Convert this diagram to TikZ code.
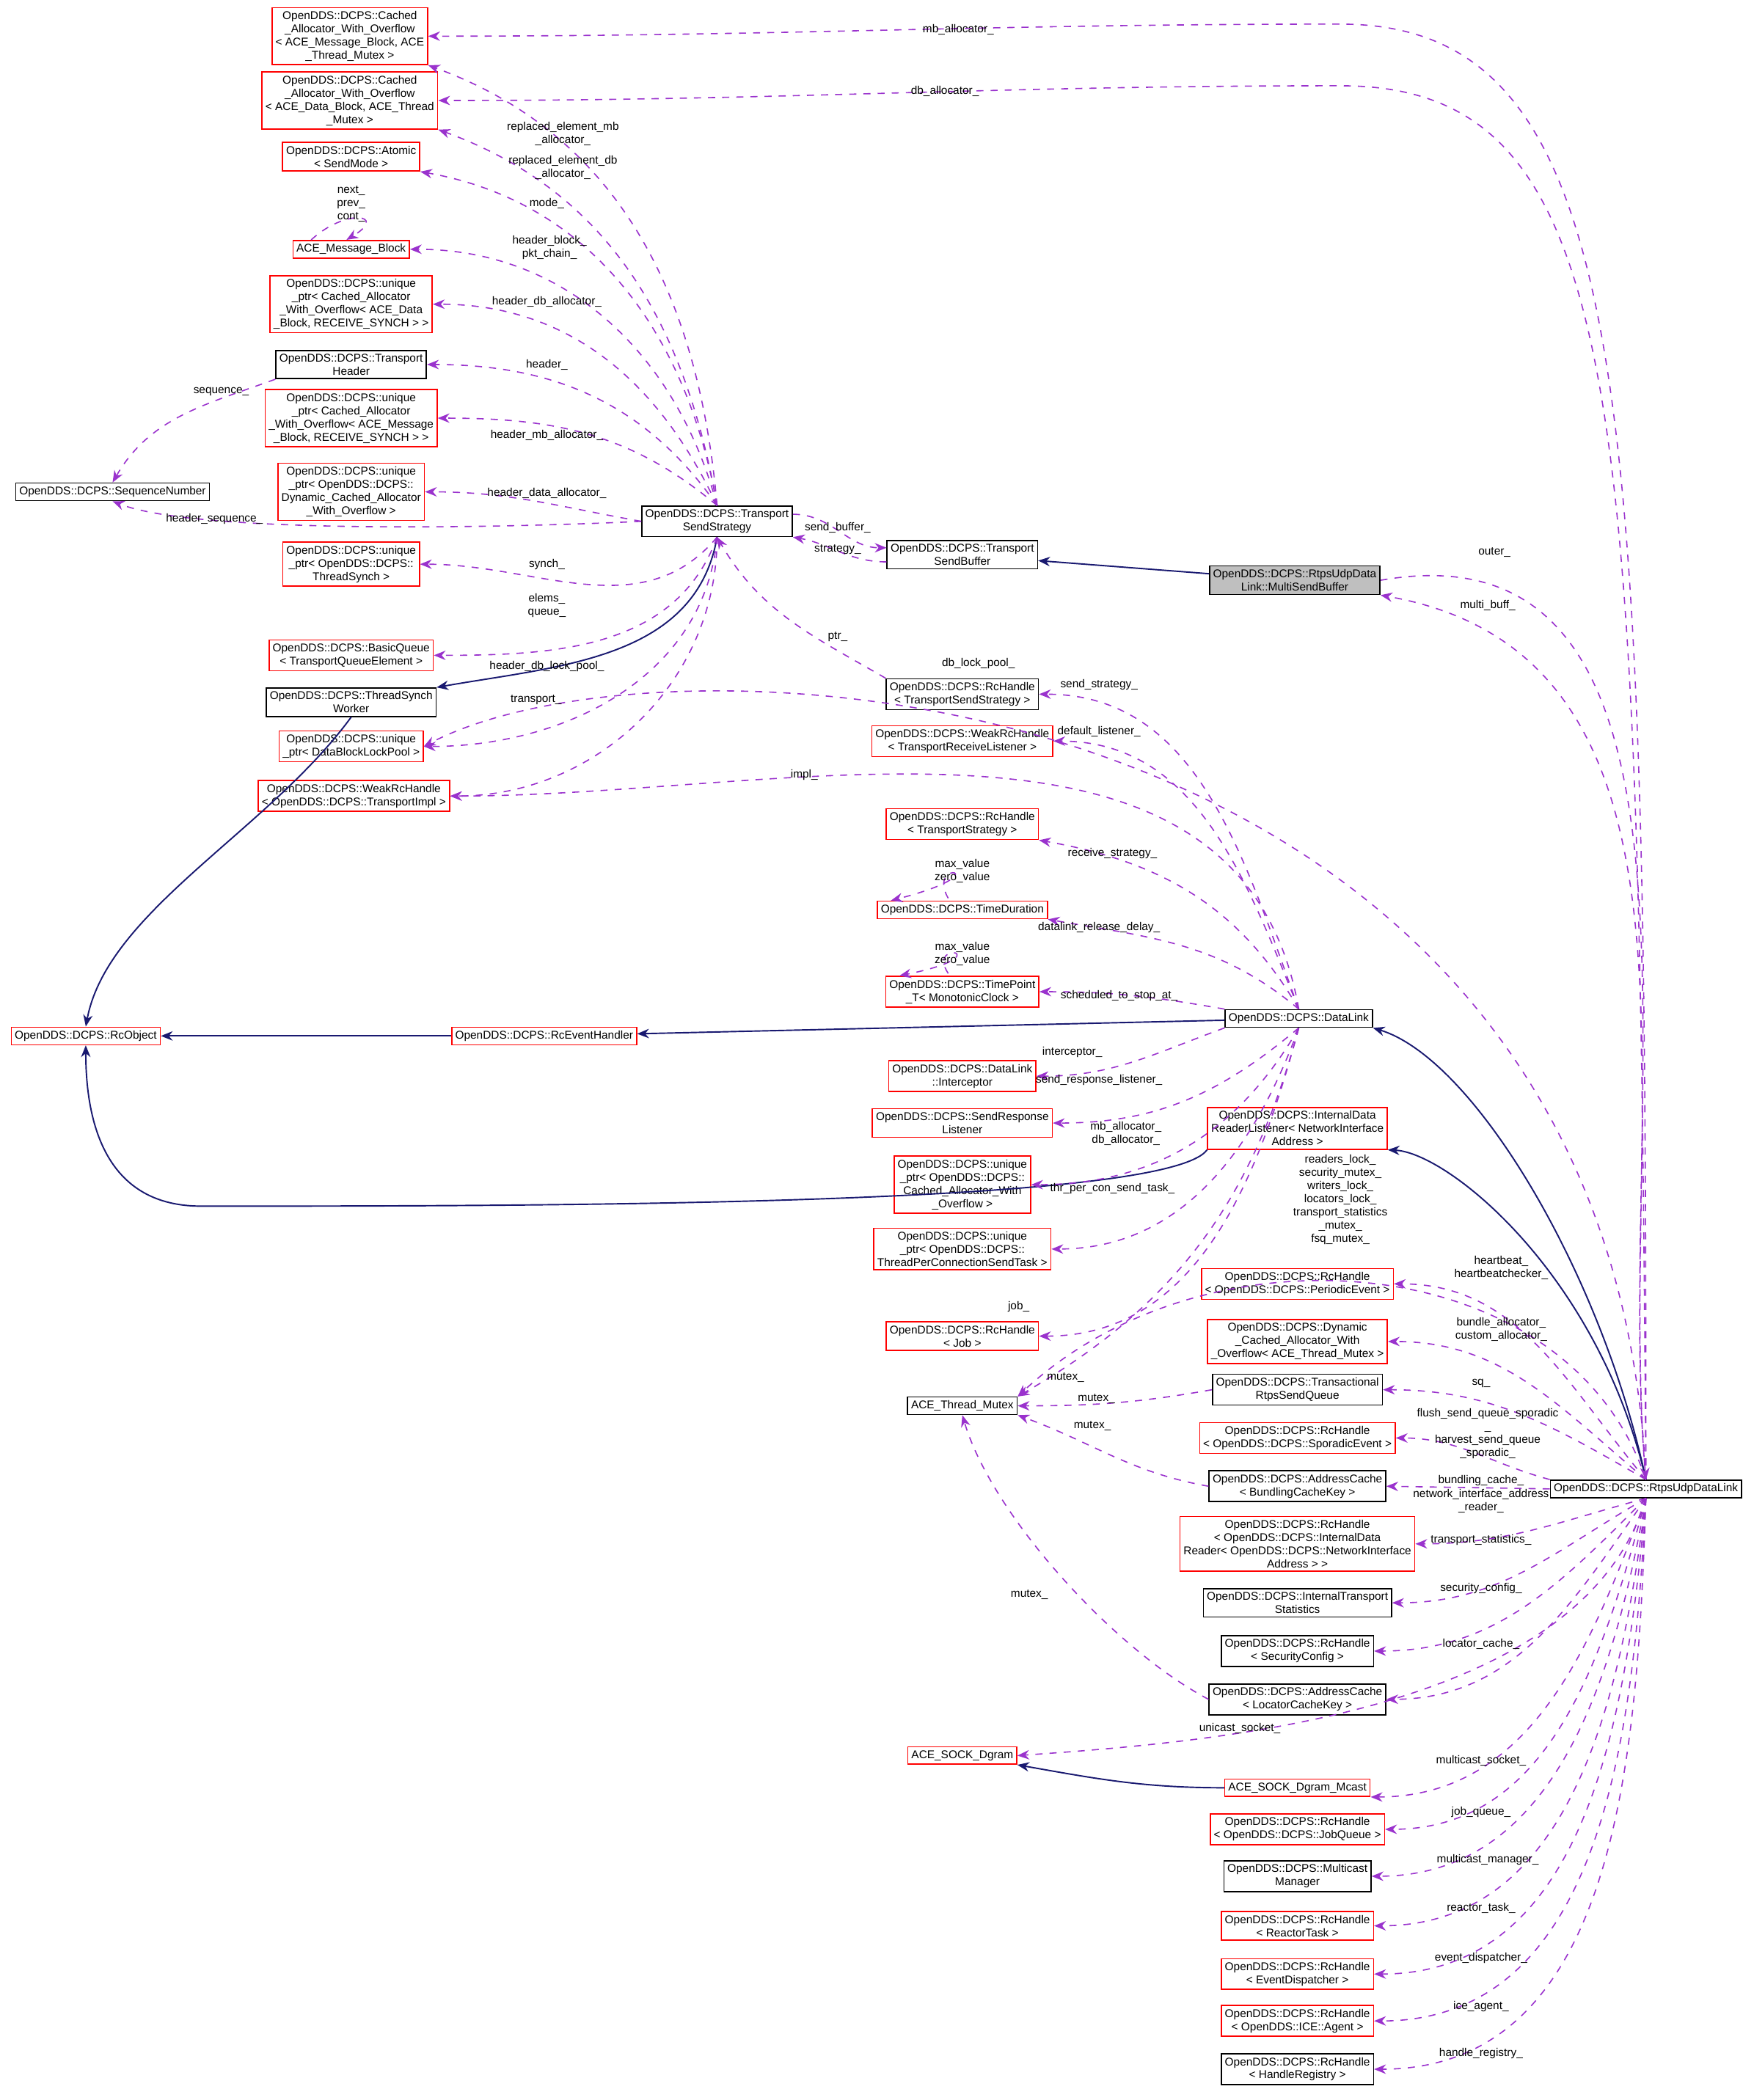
\documentclass[tikz,border=0pt]{standalone}
\usepackage{fontspec}
\setmainfont{Liberation Sans}
\usetikzlibrary{arrows.meta,positioning}
\definecolor{mbr}{HTML}{9A32CD}
\definecolor{inh}{HTML}{191970}
\begin{document}
\begin{tikzpicture}
[x=0.02cm,y=-0.02cm,
font=\fontsize{4.8}{5.6}\selectfont,
cls/.style={draw=black,align=center,inner sep=1.5pt,line width=0.5pt},
rcls/.style={cls,draw=red},
lbl/.style={align=center,inner sep=0pt},
member/.style={mbr,dashed,line width=0.5pt,-{Stealth[length=5pt,width=4pt]}},
inherit/.style={inh,line width=0.6pt,-{Stealth[length=5pt,width=4pt]}}]
\useasboundingbox (0,0) rectangle (1300,1567);
%%
% left column
%%
\node[rcls] (cawomb) at (261,27) {OpenDDS::DCPS::Cached\\\_Allocator\_With\_Overflow\\< ACE\_Message\_Block, ACE\\\_Thread\_Mutex >};
\node[rcls] (cawodb) at (261,75) {OpenDDS::DCPS::Cached\\\_Allocator\_With\_Overflow\\< ACE\_Data\_Block, ACE\_Thread\\\_Mutex >};
\node[rcls] (atomic) at (262,117) {OpenDDS::DCPS::Atomic\\< SendMode >};
\node[rcls] (msgblock) at (262,186) {ACE\_Message\_Block};
\node[rcls] (uptrdb) at (262,227) {OpenDDS::DCPS::unique\\\_ptr< Cached\_Allocator\\\_With\_Overflow< ACE\_Data\\\_Block, RECEIVE\_SYNCH > >};
\node[cls] (theader) at (262,272) {OpenDDS::DCPS::Transport\\Header};
\node[rcls] (uptrmb) at (262,312) {OpenDDS::DCPS::unique\\\_ptr< Cached\_Allocator\\\_With\_Overflow< ACE\_Message\\\_Block, RECEIVE\_SYNCH > >};
\node[rcls] (uptrdyn) at (262,367) {OpenDDS::DCPS::unique\\\_ptr< OpenDDS::DCPS::\\Dynamic\_Cached\_Allocator\\\_With\_Overflow >};
\node[cls] (seqnum) at (84,367) {OpenDDS::DCPS::SequenceNumber};
\node[rcls] (uptrsync) at (262,421) {OpenDDS::DCPS::unique\\\_ptr< OpenDDS::DCPS::\\ThreadSynch >};
\node[rcls] (basicq) at (262,489) {OpenDDS::DCPS::BasicQueue\\< TransportQueueElement >};
\node[cls] (tsw) at (262,524) {OpenDDS::DCPS::ThreadSynch\\Worker};
\node[rcls] (uptrpool) at (262,557) {OpenDDS::DCPS::unique\\\_ptr< DataBlockLockPool >};
\node[rcls] (wrcimpl) at (264,594) {OpenDDS::DCPS::WeakRcHandle\\< OpenDDS::DCPS::TransportImpl >};
\node[rcls] (rcobject) at (64,773) {OpenDDS::DCPS::RcObject};
\node[rcls] (rceh) at (406,773) {OpenDDS::DCPS::RcEventHandler};
%%
% middle column
%%
\node[cls] (tss) at (535,389) {OpenDDS::DCPS::Transport\\SendStrategy};
\node[cls] (tsb) at (718,414) {OpenDDS::DCPS::Transport\\SendBuffer};
\node[cls,fill=black!25] (msb) at (966,433) {OpenDDS::DCPS::RtpsUdpData\\Link::MultiSendBuffer};
\node[cls] (rchtss) at (718,518) {OpenDDS::DCPS::RcHandle\\< TransportSendStrategy >};
\node[rcls] (wrctrl) at (718,553) {OpenDDS::DCPS::WeakRcHandle\\< TransportReceiveListener >};
\node[rcls] (rchts) at (718,615) {OpenDDS::DCPS::RcHandle\\< TransportStrategy >};
\node[rcls] (timedur) at (718,679) {OpenDDS::DCPS::TimeDuration};
\node[rcls] (timepoint) at (718,740) {OpenDDS::DCPS::TimePoint\\\_T< MonotonicClock >};
\node[rcls] (dlint) at (718,803) {OpenDDS::DCPS::DataLink\\::Interceptor};
\node[rcls] (sresp) at (718,838) {OpenDDS::DCPS::SendResponse\\Listener};
\node[rcls] (uptrcawo) at (718,884) {OpenDDS::DCPS::unique\\\_ptr< OpenDDS::DCPS::\\Cached\_Allocator\_With\\\_Overflow >};
\node[rcls] (uptrtask) at (718,932) {OpenDDS::DCPS::unique\\\_ptr< OpenDDS::DCPS::\\ThreadPerConnectionSendTask >};
\node[rcls] (rchjob) at (718,997) {OpenDDS::DCPS::RcHandle\\< Job >};
\node[cls] (mutex) at (718,1049) {ACE\_Thread\_Mutex};
\node[rcls] (sockd) at (718,1310) {ACE\_SOCK\_Dgram};
%%
% right column
%%
\node[cls] (datalink) at (969,760) {OpenDDS::DCPS::DataLink};
\node[rcls] (idrl) at (968,842) {OpenDDS::DCPS::InternalData\\ReaderListener< NetworkInterface\\Address >};
\node[rcls] (rchpe) at (968,958) {OpenDDS::DCPS::RcHandle\\< OpenDDS::DCPS::PeriodicEvent >};
\node[rcls] (dcawo) at (968,1001) {OpenDDS::DCPS::Dynamic\\\_Cached\_Allocator\_With\\\_Overflow< ACE\_Thread\_Mutex >};
\node[cls] (trsq) at (968,1037) {OpenDDS::DCPS::Transactional\\RtpsSendQueue};
\node[rcls] (rchse) at (968,1073) {OpenDDS::DCPS::RcHandle\\< OpenDDS::DCPS::SporadicEvent >};
\node[cls] (acbck) at (968,1109) {OpenDDS::DCPS::AddressCache\\< BundlingCacheKey >};
\node[rcls] (rchidr) at (968,1152) {OpenDDS::DCPS::RcHandle\\< OpenDDS::DCPS::InternalData\\Reader< OpenDDS::DCPS::NetworkInterface\\Address > >};
\node[cls] (its) at (968,1196) {OpenDDS::DCPS::InternalTransport\\Statistics};
\node[cls] (rchsc) at (968,1232) {OpenDDS::DCPS::RcHandle\\< SecurityConfig >};
\node[cls] (aclck) at (968,1268) {OpenDDS::DCPS::AddressCache\\< LocatorCacheKey >};
\node[rcls] (sockdm) at (968,1334) {ACE\_SOCK\_Dgram\_Mcast};
\node[rcls] (rchjq) at (968,1365) {OpenDDS::DCPS::RcHandle\\< OpenDDS::DCPS::JobQueue >};
\node[cls] (mcm) at (968,1400) {OpenDDS::DCPS::Multicast\\Manager};
\node[rcls] (rchrt) at (968,1437) {OpenDDS::DCPS::RcHandle\\< ReactorTask >};
\node[rcls] (rched) at (968,1473) {OpenDDS::DCPS::RcHandle\\< EventDispatcher >};
\node[rcls] (rchice) at (968,1508) {OpenDDS::DCPS::RcHandle\\< OpenDDS::ICE::Agent >};
\node[cls] (rchhr) at (968,1544) {OpenDDS::DCPS::RcHandle\\< HandleRegistry >};
\node[cls] (rudl) at (1228,1111) {OpenDDS::DCPS::RtpsUdpDataLink};
%%
% inheritance
%%
\draw[inherit] (tss.south) to[out=-100,in=10] (tsw.north east);
\draw[inherit] (tsw.south) .. controls (200,620) and (80,680) .. (rcobject.north);
\draw[inherit] (rceh) -- (rcobject);
\draw[inherit] (datalink) -- (rceh);
\draw[inherit] (msb) -- (tsb);
\draw[inherit] (idrl.south west) .. controls (870,900) and (400,900) .. (150,900) .. controls (80,900) and (64,840) .. (rcobject.south);
\draw[inherit] (rudl.north) .. controls (1195,950) and (1100,790) .. (datalink.south east);
\draw[inherit] (rudl.north) .. controls (1192,950) and (1080,860) .. (idrl.south east);
\draw[inherit] (sockdm.west) to[out=180,in=-10] (sockd.south east);
%%
% members of TransportSendStrategy
%%
\draw[member] (tss.north) to[out=95,in=-20] (cawomb.south east);
\draw[member] (tss.north) to[out=100,in=-20] (cawodb.south east);
\draw[member] (tss.north) to[out=100,in=-10] (atomic.south east);
\draw[member] (tss.north) to[out=105,in=0] (msgblock.east);
\draw[member] (tss.north) to[out=115,in=0] (uptrdb.east);
\draw[member] (tss.north) to[out=125,in=0] (theader.east);
\draw[member] (tss.north) to[out=140,in=0] (uptrmb.east);
\draw[member] (tss.west) to[out=170,in=0] (uptrdyn.east);
\draw[member] (tss.west) .. controls (400,393) and (150,400) .. (seqnum.south);
\draw[member] (theader.south west) to[out=-160,in=60] (seqnum.north);
\draw[member] (tss.south) to[out=-130,in=0] (uptrsync.east);
\draw[member] (tss.south) to[out=-110,in=0] (basicq.east);
\draw[member] (tss.south) to[out=-95,in=0] (uptrpool.east);
\draw[member] (tss.south) to[out=-90,in=0] (wrcimpl.east);
\draw[member] ([yshift=3pt]tss.east) to[out=0,in=180] ([yshift=3pt]tsb.west);
\draw[member] ([yshift=-3pt]tsb.west) to[out=180,in=-10] (tss.south east);
\draw[member] (rchtss.north west) to[out=150,in=-60] (tss.south);
\draw[member] ([xshift=8pt]msgblock.north west) .. controls (258,155) and (290,160) .. ([xshift=-2pt]msgblock.north);
%%
% members of DataLink
%%
\draw[member] (datalink.north) to[out=100,in=0] (wrcimpl.east);
\draw[member] (datalink.north) to[out=110,in=0] (rchtss.east);
\draw[member] (datalink.north) to[out=112,in=0] (wrctrl.east);
\draw[member] (datalink.north) to[out=120,in=-10] (rchts.south east);
\draw[member] (datalink.north) to[out=140,in=-10] (timedur.south east);
\draw[member] (datalink.north west) to[out=170,in=0] (timepoint.east);
\draw[member] ([xshift=-6pt,yshift=1pt]timedur.north) .. controls (690,640) and (750,650) .. ([xshift=6pt]timedur.north west);
\draw[member] ([xshift=-6pt,yshift=1pt]timepoint.north) .. controls (690,700) and (750,712) .. ([xshift=6pt]timepoint.north west);
\draw[member] (datalink.south west) to[out=-160,in=0] (dlint.east);
\draw[member] (datalink.south) to[out=-140,in=0] (sresp.east);
\draw[member] (datalink.south) to[out=-120,in=0] (uptrcawo.east);
\draw[member] (datalink.south) to[out=-110,in=0] (uptrtask.east);
\draw[member] (datalink.south) to[out=-105,in=0] (rchjob.east);
\draw[member] (datalink.south) to[out=-105,in=30] (mutex.north east);
%%
% members of RtpsUdpDataLink
%%
\draw[member] (rudl.north) .. controls (1228,300) and (1220,18) .. (1000,18) to[out=180,in=0] (cawomb.east);
\draw[member] (rudl.north) .. controls (1222,300) and (1215,64) .. (1000,64) to[out=180,in=0] (cawodb.east);
\draw[member] (rudl.north) .. controls (1200,500) and (500,460) .. (uptrpool.east);
\draw[member] (msb.east) to[out=10,in=95] (rudl.north);
\draw[member] (rudl.north) to[out=95,in=-10] (msb.south east);
\draw[member] (rudl.north) .. controls (1170,930) and (900,910) .. (mutex.north east);
\draw[member] (rudl.north) to[out=130,in=0] (rchpe.east);
\draw[member] (rudl.north) to[out=140,in=0] (dcawo.east);
\draw[member] (rudl.north) to[out=150,in=0] (trsq.east);
\draw[member] (rudl.north west) to[out=165,in=0] (rchse.east);
\draw[member] (rudl.west) -- (acbck.east);
\draw[member] (rudl.south) to[out=-165,in=0] (rchidr.east);
\draw[member] (rudl.south) to[out=-150,in=0] (its.east);
\draw[member] (rudl.south) to[out=-135,in=0] (rchsc.east);
\draw[member] (rudl.south) to[out=-125,in=0] (aclck.east);
\draw[member] (rudl.south) .. controls (1180,1280) and (900,1300) .. (sockd.east);
\draw[member] (rudl.south) to[out=-110,in=0] (sockdm.south east);
\draw[member] (rudl.south) to[out=-105,in=0] (rchjq.east);
\draw[member] (rudl.south) to[out=-100,in=0] (mcm.east);
\draw[member] (rudl.south) to[out=-97,in=0] (rchrt.east);
\draw[member] (rudl.south) to[out=-95,in=0] (rched.east);
\draw[member] (rudl.south) to[out=-93,in=0] (rchice.east);
\draw[member] (rudl.south) to[out=-92,in=0] (rchhr.east);
%%
% mutex users
%%
\draw[member] (trsq.west) to[out=190,in=0] (mutex.east);
\draw[member] (acbck.west) to[out=170,in=-20] (mutex.south east);
\draw[member] (aclck.west) .. controls (830,1230) and (740,1130) .. (mutex.south);
%%
% labels
%%
\node[lbl] (lmb) at (715,22) {mb\_allocator\_};
\node[lbl] (ldb) at (705,68) {db\_allocator\_};
\node[lbl] (lrmb) at (420,100) {replaced\_element\_mb\\\_allocator\_};
\node[lbl] (lrdb) at (420,125) {replaced\_element\_db\\\_allocator\_};
\node[lbl] (lmode) at (408,152) {mode\_};
\node[lbl] (lnext) at (262,152) {next\_\\prev\_\\cont\_};
\node[lbl] (lhb) at (410,185) {header\_block\_\\pkt\_chain\_};
\node[lbl] (lhdba) at (408,225) {header\_db\_allocator\_};
\node[lbl] (lhdr) at (408,272) {header\_};
\node[lbl] (lseq) at (165,292) {sequence\_};
\node[lbl] (lhmba) at (408,325) {header\_mb\_allocator\_};
\node[lbl] (lhda) at (408,368) {header\_data\_allocator\_};
\node[lbl] (lhseq) at (160,387) {header\_sequence\_};
\node[lbl] (lsynch) at (408,421) {synch\_};
\node[lbl] (lelems) at (408,452) {elems\_\\queue\_};
\node[lbl] (lhdlp) at (408,497) {header\_db\_lock\_pool\_};
\node[lbl] (ldlp) at (730,495) {db\_lock\_pool\_};
\node[lbl] (ltrans) at (400,522) {transport\_};
\node[lbl] (limpl) at (600,578) {impl\_};
\node[lbl] (lsb) at (625,394) {send\_buffer\_};
\node[lbl] (lstrat) at (625,410) {strategy\_};
\node[lbl] (lptr) at (625,475) {ptr\_};
\node[lbl] (louter) at (1115,412) {outer\_};
\node[lbl] (lmulti) at (1110,452) {multi\_buff\_};
\node[lbl] (lss) at (820,511) {send\_strategy\_};
\node[lbl] (ldl) at (820,546) {default\_listener\_};
\node[lbl] (lrs) at (830,637) {receive\_strategy\_};
\node[lbl] (ltd) at (718,650) {max\_value\\zero\_value};
\node[lbl] (ltp) at (718,712) {max\_value\\zero\_value};
\node[lbl] (ldrd) at (820,692) {datalink\_release\_delay\_};
\node[lbl] (lsts) at (835,743) {scheduled\_to\_stop\_at\_};
\node[lbl] (lint) at (800,785) {interceptor\_};
\node[lbl] (lsrl) at (820,806) {send\_response\_listener\_};
\node[lbl] (lmbdb) at (840,846) {mb\_allocator\_\\db\_allocator\_};
\node[lbl] (ltpc) at (830,887) {thr\_per\_con\_send\_task\_};
\node[lbl] (llocks) at (1000,895) {readers\_lock\_\\security\_mutex\_\\writers\_lock\_\\locators\_lock\_\\transport\_statistics\\\_mutex\_\\fsq\_mutex\_};
\node[lbl] (ljob) at (760,975) {job\_};
\node[lbl] (lmx1) at (795,1028) {mutex\_};
\node[lbl] (lmx2) at (818,1044) {mutex\_};
\node[lbl] (lmx3) at (815,1064) {mutex\_};
\node[lbl] (lmx4) at (768,1190) {mutex\_};
\node[lbl] (lhbt) at (1120,946) {heartbeat\_\\heartbeatchecker\_};
\node[lbl] (lba) at (1120,992) {bundle\_allocator\_\\custom\_allocator\_};
\node[lbl] (lsq) at (1105,1032) {sq\_};
\node[lbl] (lfsq) at (1110,1070) {flush\_send\_queue\_sporadic\\\_\\harvest\_send\_queue\\\_sporadic\_};
\node[lbl] (lbc) at (1105,1105) {bundling\_cache\_};
\node[lbl] (lnia) at (1105,1120) {network\_interface\_address\\\_reader\_};
\node[lbl] (ltst) at (1105,1149) {transport\_statistics\_};
\node[lbl] (lsc) at (1105,1185) {security\_config\_};
\node[lbl] (llc) at (1105,1227) {locator\_cache\_};
\node[lbl] (lus) at (925,1290) {unicast\_socket\_};
\node[lbl] (lms) at (1105,1314) {multicast\_socket\_};
\node[lbl] (ljq) at (1105,1352) {job\_queue\_};
\node[lbl] (lmm) at (1110,1388) {multicast\_manager\_};
\node[lbl] (lrt) at (1105,1424) {reactor\_task\_};
\node[lbl] (led) at (1105,1461) {event\_dispatcher\_};
\node[lbl] (lice) at (1105,1497) {ice\_agent\_};
\node[lbl] (lhr) at (1105,1532) {handle\_registry\_};
\end{tikzpicture}
\end{document}
